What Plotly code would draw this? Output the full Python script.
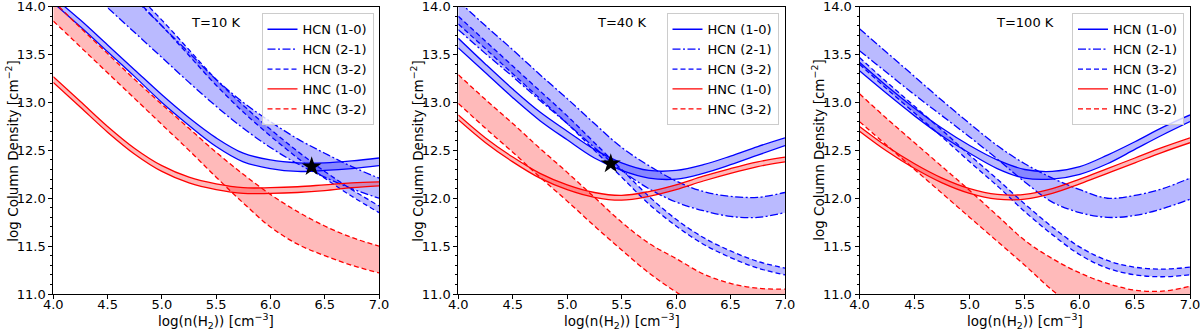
import plotly.graph_objects as go

# ---------------- data ----------------
X = [4.0, 4.25, 4.5, 4.75, 5.0, 5.25, 5.5, 5.75, 6.0, 6.25, 6.5, 6.75, 7.0]
X_TICKS = [4.0, 4.5, 5.0, 5.5, 6.0, 6.5, 7.0]
Y_TICKS = [11.0, 11.5, 12.0, 12.5, 13.0, 13.5, 14.0]

TITLES = ["T=10 K", "T=40 K", "T=100 K"]
LABELS = ["HCN (1-0)", "HCN (2-1)", "HCN (3-2)", "HNC (1-0)", "HNC (3-2)"]
X_TITLE = "log(n(H<sub>2</sub>)) [cm<sup>−3</sup>]"
Y_TITLE = "log Column Density [cm<sup>−2</sup>]"

# T = 10 K
t10_hcn10_up = [14.10, 13.86, 13.60, 13.34, 13.08, 12.84, 12.63, 12.47, 12.40, 12.37, 12.37, 12.39, 12.42]
t10_hcn10_lo = [14.04, 13.79, 13.53, 13.27, 13.00, 12.76, 12.54, 12.38, 12.31, 12.28, 12.29, 12.31, 12.34]
t10_hcn21_up = [14.94, 14.66, 14.37, 14.08, 13.80, 13.52, 13.24, 13.00, 12.80, 12.62, 12.47, 12.33, 12.21]
t10_hcn21_lo = [14.52, 14.26, 13.99, 13.73, 13.47, 13.21, 12.96, 12.73, 12.53, 12.36, 12.22, 12.10, 12.00]
t10_hcn32_up = [15.00, 14.72, 14.43, 14.15, 13.86, 13.55, 13.24, 12.97, 12.72, 12.49, 12.28, 12.09, 11.92]
t10_hcn32_lo = [14.95, 14.66, 14.37, 14.09, 13.80, 13.49, 13.18, 12.90, 12.65, 12.42, 12.21, 12.02, 11.85]
t10_hnc10_up = [13.27, 13.01, 12.75, 12.52, 12.34, 12.22, 12.15, 12.11, 12.11, 12.12, 12.14, 12.16, 12.17]
t10_hnc10_lo = [13.21, 12.95, 12.69, 12.46, 12.28, 12.16, 12.09, 12.05, 12.05, 12.06, 12.08, 12.11, 12.13]
t10_hnc32_up = [14.06, 13.78, 13.51, 13.24, 12.98, 12.73, 12.48, 12.25, 12.04, 11.86, 11.71, 11.59, 11.50]
t10_hnc32_lo = [13.85, 13.58, 13.31, 13.04, 12.77, 12.50, 12.22, 11.95, 11.70, 11.52, 11.40, 11.30, 11.22]

# T = 40 K
t40_hcn10_up = [13.67, 13.40, 13.14, 12.90, 12.70, 12.51, 12.37, 12.29, 12.29, 12.35, 12.44, 12.54, 12.63]
t40_hcn10_lo = [13.57, 13.31, 13.05, 12.81, 12.61, 12.42, 12.29, 12.21, 12.20, 12.26, 12.35, 12.45, 12.55]
t40_hcn21_up = [14.06, 13.80, 13.55, 13.29, 13.04, 12.78, 12.53, 12.34, 12.18, 12.07, 12.02, 12.01, 12.06]
t40_hcn21_lo = [13.76, 13.51, 13.27, 13.02, 12.78, 12.53, 12.29, 12.10, 11.96, 11.87, 11.81, 11.80, 11.85]
t40_hcn32_up = [13.90, 13.64, 13.38, 13.12, 12.86, 12.58, 12.30, 12.02, 11.78, 11.59, 11.45, 11.34, 11.27]
t40_hcn32_lo = [13.82, 13.56, 13.30, 13.04, 12.78, 12.50, 12.22, 11.94, 11.71, 11.52, 11.38, 11.27, 11.20]
t40_hnc10_up = [12.87, 12.63, 12.43, 12.26, 12.14, 12.06, 12.03, 12.07, 12.14, 12.23, 12.31, 12.38, 12.43]
t40_hnc10_lo = [12.82, 12.58, 12.38, 12.21, 12.09, 12.01, 11.98, 12.02, 12.09, 12.18, 12.26, 12.33, 12.38]
t40_hnc32_up = [13.29, 13.03, 12.78, 12.52, 12.27, 12.01, 11.75, 11.53, 11.37, 11.21, 11.11, 11.06, 11.05]
t40_hnc32_lo = [12.99, 12.73, 12.48, 12.22, 11.97, 11.71, 11.46, 11.22, 11.02, 10.85, 10.72, 10.63, 10.58]

# T = 100 K
t100_hcn10_up = [13.42, 13.17, 12.94, 12.73, 12.55, 12.40, 12.30, 12.28, 12.33, 12.45, 12.59, 12.74, 12.87]
t100_hcn10_lo = [13.33, 13.09, 12.86, 12.65, 12.47, 12.31, 12.21, 12.20, 12.25, 12.36, 12.51, 12.66, 12.80]
t100_hcn21_up = [13.77, 13.52, 13.27, 13.02, 12.78, 12.55, 12.36, 12.21, 12.09, 12.00, 12.03, 12.10, 12.21]
t100_hcn21_lo = [13.54, 13.31, 13.08, 12.86, 12.64, 12.41, 12.17, 11.96, 11.85, 11.80, 11.82, 11.89, 11.99]
t100_hcn32_up = [13.47, 13.21, 12.96, 12.71, 12.45, 12.20, 11.94, 11.70, 11.49, 11.35, 11.28, 11.26, 11.28]
t100_hcn32_lo = [13.40, 13.14, 12.89, 12.64, 12.38, 12.13, 11.86, 11.62, 11.41, 11.27, 11.20, 11.18, 11.20]
t100_hnc10_up = [12.75, 12.54, 12.36, 12.21, 12.10, 12.04, 12.04, 12.10, 12.20, 12.31, 12.42, 12.53, 12.63]
t100_hnc10_lo = [12.70, 12.49, 12.31, 12.16, 12.05, 11.99, 11.99, 12.05, 12.15, 12.26, 12.37, 12.48, 12.58]
t100_hnc32_up = [13.09, 12.83, 12.58, 12.33, 12.08, 11.82, 11.56, 11.37, 11.22, 11.11, 11.04, 11.03, 11.08]
t100_hnc32_lo = [12.80, 12.55, 12.30, 12.05, 11.80, 11.55, 11.30, 11.04, 10.82, 10.65, 10.52, 10.45, 10.42]

STAR_X = [6.38, 5.40]
STAR_Y = [12.33, 12.36]

PANELS = [
    [(t10_hcn10_up, t10_hcn10_lo), (t10_hcn21_up, t10_hcn21_lo), (t10_hcn32_up, t10_hcn32_lo),
     (t10_hnc10_up, t10_hnc10_lo), (t10_hnc32_up, t10_hnc32_lo)],
    [(t40_hcn10_up, t40_hcn10_lo), (t40_hcn21_up, t40_hcn21_lo), (t40_hcn32_up, t40_hcn32_lo),
     (t40_hnc10_up, t40_hnc10_lo), (t40_hnc32_up, t40_hnc32_lo)],
    [(t100_hcn10_up, t100_hcn10_lo), (t100_hcn21_up, t100_hcn21_lo), (t100_hcn32_up, t100_hcn32_lo),
     (t100_hnc10_up, t100_hnc10_lo), (t100_hnc32_up, t100_hnc32_lo)],
]

# ---------------- styles ----------------
BLUE = "#0000ff"
RED = "#ff0000"
COLORS = [BLUE, BLUE, BLUE, RED, RED]
FILLS = ["rgba(0,0,255,0.27)"] * 3 + ["rgba(255,0,0,0.27)"] * 2
DASHES = ["solid", "8px,2.5px,2px,2.5px", "5px,3px", "solid", "5px,3px"]
LW = 1.3
FONT = "DejaVu Sans"

W, H = 1200, 330
XPIX = [(53.3, 379.0), (458.3, 785.0), (859.5, 1190.0)]
YTOP, YBOT = 6.7, 294.0
LEG_RIGHT = [373.5, 778.5, 1184.0]

fig = go.Figure()

for p, series in enumerate(PANELS):
    xa = "x" if p == 0 else f"x{p + 1}"
    ya = "y" if p == 0 else f"y{p + 1}"
    leg = "legend" if p == 0 else f"legend{p + 1}"
    # fills first
    for i, (up, lo) in enumerate(series):
        fig.add_trace(go.Scatter(x=X, y=lo, xaxis=xa, yaxis=ya, mode="lines",
                                 line=dict(width=0, shape="spline", color=COLORS[i]),
                                 showlegend=False, hoverinfo="skip"))
        fig.add_trace(go.Scatter(x=X, y=up, xaxis=xa, yaxis=ya, mode="lines",
                                 line=dict(width=0, shape="spline", color=COLORS[i]),
                                 fill="tonexty", fillcolor=FILLS[i],
                                 showlegend=False, hoverinfo="skip"))
    # lines
    for i, (up, lo) in enumerate(series):
        fig.add_trace(go.Scatter(x=X, y=up, xaxis=xa, yaxis=ya, mode="lines",
                                 line=dict(width=LW, shape="spline", color=COLORS[i], dash=DASHES[i]),
                                 name=LABELS[i], legend=leg, showlegend=True))
        fig.add_trace(go.Scatter(x=X, y=lo, xaxis=xa, yaxis=ya, mode="lines",
                                 line=dict(width=LW, shape="spline", color=COLORS[i], dash=DASHES[i]),
                                 name=LABELS[i], legend=leg, showlegend=False))
    if p < len(STAR_X):
        fig.add_trace(go.Scatter(x=[STAR_X[p]], y=[STAR_Y[p]], xaxis=xa, yaxis=ya, mode="markers",
                                 marker=dict(symbol="star", size=15, color="black"),
                                 showlegend=False))

layout = dict(
    width=W, height=H, margin=dict(l=0, r=0, t=0, b=0),
    paper_bgcolor="white", plot_bgcolor="white",
    font=dict(family=FONT, size=13, color="black"),
    showlegend=True,
)

for p in range(3):
    xk = "xaxis" if p == 0 else f"xaxis{p + 1}"
    yk = "yaxis" if p == 0 else f"yaxis{p + 1}"
    x0, x1 = XPIX[p]
    layout[xk] = dict(
        domain=[x0 / W, x1 / W], anchor="y" if p == 0 else f"y{p + 1}",
        range=[4.0, 7.0], tickmode="array", tickvals=X_TICKS,
        ticktext=[f"{v:.1f}" for v in X_TICKS],
        showline=True, mirror=True, linecolor="black", linewidth=1,
        ticks="outside", ticklen=4, tickwidth=1, tickcolor="black",
        showgrid=False, zeroline=False, automargin=False,
        ticklabeloverflow="allow", ticklabelstandoff=-6, tickfont=dict(size=13),
    )
    layout[yk] = dict(
        domain=[1 - YBOT / H, 1 - YTOP / H], anchor="x" if p == 0 else f"x{p + 1}",
        range=[11.0, 14.0], tickmode="array", tickvals=Y_TICKS,
        ticktext=[f"{v:.1f}" for v in Y_TICKS],
        showline=True, mirror=True, linecolor="black", linewidth=1,
        ticks="outside", ticklen=4, tickwidth=1, tickcolor="black",
        minor=dict(tickmode="linear", tick0=11.0, dtick=0.1, ticks="outside", ticklen=2,
                   tickcolor="black", showgrid=False),
        showgrid=False, zeroline=False, automargin=False,
        ticklabeloverflow="allow", tickfont=dict(size=13),
    )
    lk = "legend" if p == 0 else f"legend{p + 1}"
    layout[lk] = dict(
        x=LEG_RIGHT[p] / W, y=1 - 13.3 / H, xanchor="right", yanchor="top",
        xref="paper", yref="paper", traceorder="normal",
        bgcolor="rgba(255,255,255,0.8)", bordercolor="#cccccc", borderwidth=1,
        font=dict(family=FONT, size=13), itemwidth=30, tracegroupgap=0,
    )

fig.update_layout(**layout)

for p, t in enumerate(TITLES):
    xr = "x" if p == 0 else f"x{p + 1}"
    yr = "y" if p == 0 else f"y{p + 1}"
    fig.add_annotation(text=t, x=5.5, y=13.84, xref=xr, yref=yr, showarrow=False,
                       font=dict(family=FONT, size=13, color="black"))
    x0, x1 = XPIX[p]
    # axis titles
    fig.add_annotation(text=X_TITLE, x=(x0 + x1) / 2 / W, y=1 - 321 / H, xref="paper", yref="paper",
                       showarrow=False, xanchor="center", yanchor="middle",
                       font=dict(family=FONT, size=13.5, color="black"))
    fig.add_annotation(text=Y_TITLE, x=(x0 - 41) / W, y=1 - ((YTOP + YBOT) / 2) / H,
                       xref="paper", yref="paper", textangle=-90,
                       showarrow=False, xanchor="center", yanchor="middle",
                       font=dict(family=FONT, size=13.5, color="black"))

fig.write_html("out.html", config={"displayModeBar": False},
               post_script="document.body.style.margin='0px';")
